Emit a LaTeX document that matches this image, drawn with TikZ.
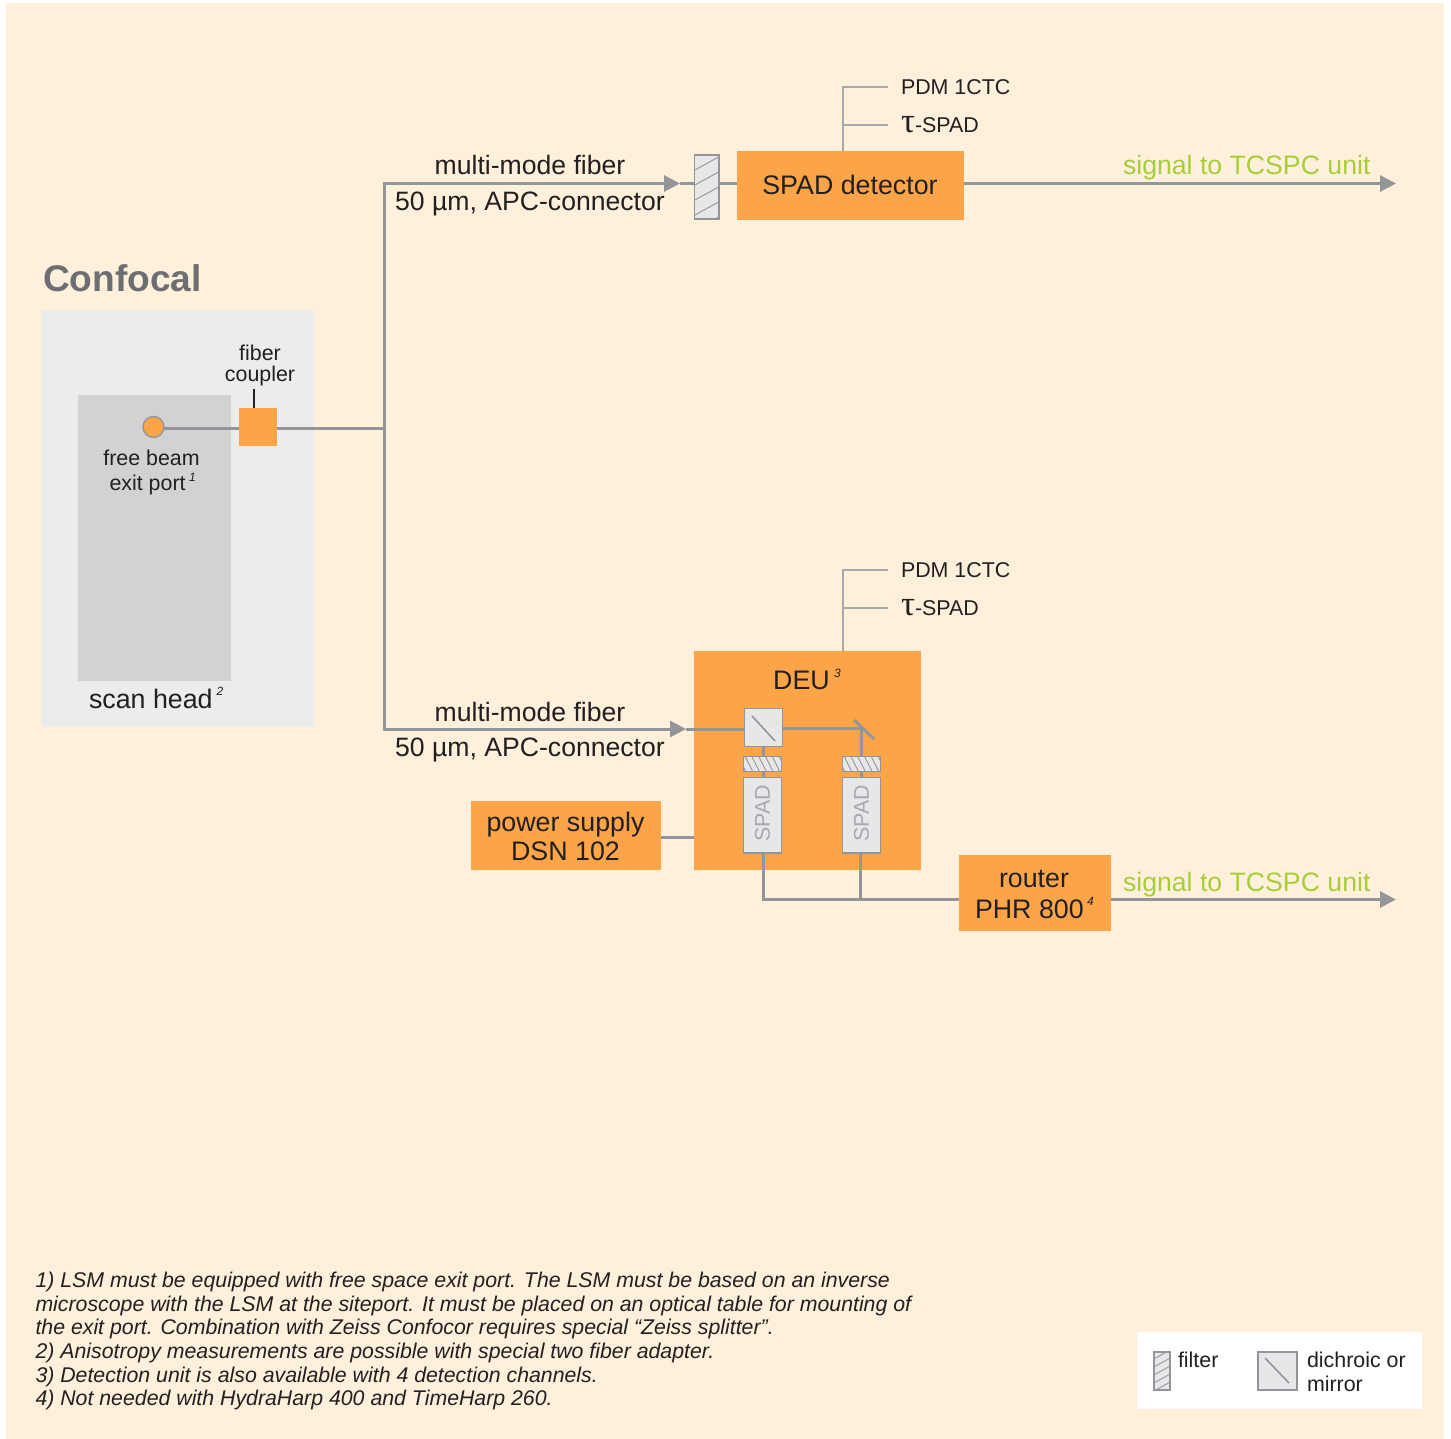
\documentclass[tikz,border=0pt]{standalone}
\usepackage{fontspec}
\setmainfont{Liberation Sans}
\newfontfamily\taufont{Liberation Serif}
\usetikzlibrary{arrows.meta}
\definecolor{bgc}{HTML}{FFF0DC}
\definecolor{panelc}{HTML}{EBECEC}
\definecolor{headc}{HTML}{D1D2D4}
\definecolor{orangec}{HTML}{FBA548}
\definecolor{linec}{HTML}{939598}
\definecolor{thinc}{HTML}{A7A9AC}
\definecolor{fillc}{HTML}{E6E7E8}
\definecolor{txtc}{HTML}{231F20}
\definecolor{greenc}{HTML}{A6CE39}
\definecolor{headtxt}{HTML}{6D6E71}
\newcommand{\rectnode}[6]{%
  \node[#6,minimum width={(#4-#2)*0.5pt},minimum height={(#5-#3)*0.5pt}] (#1) at ({(#2+#4)/2},{(#3+#5)/2}) {};}
\newcommand{\pxfont}[2]{\fontsize{#1}{#2}\selectfont}
\newcommand{\tauglyph}{{\taufont\fontsize{17.5pt}{17.5pt}\selectfont τ}}
\tikzset{
  x=0.5pt,y=-0.5pt,
  area/.style={inner sep=0pt,outer sep=0pt,fill=#1,draw=none},
  hbox/.style={inner sep=0pt,outer sep=0pt,fill=orangec,draw=none,text=txtc,align=center},
  compbox/.style={inner sep=0pt,outer sep=0pt,fill=fillc,draw=linec,line width=0.8pt},
  hatchup/.style={compbox,path picture={
     \foreach \k in {-6,...,6}
       \draw[linec,line width=0.45pt] ([xshift=-15pt,yshift=\k*#1-4pt]path picture bounding box.center) -- ++(30pt,16.5pt);}},
  hatchdown/.style={compbox,path picture={
     \foreach \k in {-8,...,8}
       \draw[linec,line width=0.45pt] ([xshift=\k*3.4pt-2pt,yshift=4pt]path picture bounding box.center) -- ++(4pt,-8pt);}},
  beam/.style={linec,line width=1.5pt},
  thin line/.style={thinc,line width=0.7pt},
  arrowbeam/.style={beam,-{Triangle[length=8pt,width=8pt]}},
  lab/.style={inner sep=0pt,outer sep=0pt,text=txtc,font=\pxfont{13.4pt}{15pt},anchor=base},
  fiberlab/.style={lab,font=\pxfont{13.3pt}{15pt}},
  small/.style={inner sep=0pt,outer sep=0pt,text=txtc,font=\pxfont{10.7pt}{12pt},anchor=base west},
  smallc/.style={small,anchor=base},
  sig/.style={inner sep=0pt,outer sep=0pt,text=greenc,font=\pxfont{13.33pt}{15pt},anchor=base west},
  supnum/.style={inner sep=0pt,outer sep=0pt,text=txtc,font=\pxfont{6pt}{7pt}\itshape,anchor=base west},
  spadtext/.style={text=thinc,font=\pxfont{10.7pt}{12pt},rotate=90,inner sep=0pt,xshift=1pt},
}
\begin{document}
\begin{tikzpicture}
\useasboundingbox (0,0) rectangle (1451,1439);
\rectnode{bg}{6}{3}{1444}{1439}{area=bgc}
\rectnode{panel}{41}{310}{314}{727}{area=panelc}
\rectnode{head}{78}{395}{231}{681}{area=headc}
\node[inner sep=0pt,outer sep=0pt,text=headtxt,font=\pxfont{18.55pt}{20pt}\bfseries,anchor=base west] (conf) at (43,291.5) {Confocal};

% named points
\coordinate (split) at (384.5,428);
\coordinate (upc) at (384.5,183.5);
\coordinate (lowc) at (384.5,729);
\coordinate (uptip) at (680,183.5);
\coordinate (lowtip) at (686,729);
\coordinate (sigtip1) at (1396,183.5);
\coordinate (sigtip2) at (1396,899.5);
\coordinate (pdmA) at (888,87);
\coordinate (pdmB) at (888,125);
\coordinate (pdmC) at (888,570);
\coordinate (pdmD) at (888,608);
\coordinate (tick) at (254,389);

% boxes
\rectnode{coupler}{239}{408}{277}{446}{hbox}
\node[circle,inner sep=0pt,outer sep=0pt,minimum size=10.5pt,fill=orangec,draw=linec,line width=0.7pt] (port) at (153.5,427) {};
\rectnode{detector}{737}{151}{964}{220}{hbox}
\rectnode{deu}{694}{651}{921}{870}{hbox}
\rectnode{psu}{471}{801}{661}{870}{hbox}
\rectnode{router}{959}{855}{1111}{931}{hbox}
\rectnode{legendbg}{1137}{1332}{1422}{1409}{area=white}

% connectors behind
\draw[beam] (port.east |- split) -- (coupler.west |- split);
\draw[beam] (coupler.east |- split) -- (split);
\draw[beam,line cap=rect] (upc) -- (lowc);
\draw[arrowbeam] (upc) -- (uptip);
\draw[arrowbeam] (lowc) -- (lowtip);
\draw[txtc,line width=0.6pt] (tick) -- (tick |- coupler.north);

\rectnode{upfilter}{694.5}{155}{719}{219}{hatchup=7.5pt}
\draw[beam] (uptip) -- (upfilter.west |- uptip);
\draw[beam] (upfilter.east |- uptip) -- (detector.west |- uptip);
\draw[arrowbeam] (detector.east |- sigtip1) -- (sigtip1);

\coordinate (upstem) at (843,87);
\coordinate (lowstem) at (843,570);
\draw[thin line] (pdmA) -- (upstem) -- (upstem |- detector.north);
\draw[thin line] (pdmB) -- (upstem |- pdmB);
\draw[thin line] (pdmC) -- (lowstem) -- (lowstem |- deu.north);
\draw[thin line] (pdmD) -- (lowstem |- pdmD);

% DEU interior
\rectnode{dich}{744.5}{708.5}{782.5}{746.5}{compbox}
\rectnode{filtA}{743.5}{756.5}{781.5}{771.5}{hatchdown}
\rectnode{filtB}{842.5}{756.5}{880.5}{771.5}{hatchdown}
\rectnode{spadA}{743.5}{777.5}{781.5}{853}{compbox}
\rectnode{spadB}{842.5}{777.5}{880.5}{853}{compbox}
\coordinate (mirrorA) at (854,720);
\coordinate (mirrorB) at (874,739);
\coordinate (mirrorhit) at (861.5,728.5);
\coordinate (dichA) at (752,716);
\coordinate (dichB) at (775,741);
\coordinate (stemA) at (763.7,899.5);
\coordinate (stemB) at (860.7,899.5);
\draw[beam] (lowtip) -- (dich.west |- lowtip);
\draw[beam] (dich.east |- mirrorhit) -- (mirrorhit);
\draw[beam] (mirrorA) -- (mirrorB);
\draw[beam] (mirrorhit) -- (mirrorhit |- filtB.north);
\draw[beam] (filtB.south -| mirrorhit) -- (spadB.north -| mirrorhit);
\draw[beam] (dich.south -| stemA) -- (filtA.north -| stemA);
\draw[beam] (filtA.south -| stemA) -- (spadA.north -| stemA);
\draw[linec,line width=0.8pt] (dichA) -- (dichB);
\node[spadtext] (spadAtxt) at (spadA.center) {SPAD};
\node[spadtext] (spadBtxt) at (spadB.center) {SPAD};

\draw[beam,line join=miter] (spadA.south -| stemA) -- (stemA) -- (router.west |- stemA);
\draw[beam] (spadB.south -| stemB) -- (stemB);
\draw[arrowbeam] (router.east |- sigtip2) -- (sigtip2);
\draw[beam] (psu.east |- 0,837.5) -- (deu.west |- 0,837.5);

% labels
\node[smallc] (fc1) at (260,360) {fiber};
\node[smallc] (fc2) at (260,381) {coupler};
\node[smallc] (fb1) at (151.5,465.5) {free beam};
\node[small] (fb2) at (109.5,490) {exit port};
\node[supnum] (s1) at (189,481) {1};
\node[lab,anchor=base west] (shl) at (89,708) {scan head};
\node[supnum] (s2) at (216.5,695) {2};
\node[fiberlab] (mm1) at (530,175) {multi-mode fiber};
\node[fiberlab] (mm1b) at (530,211) {50 µm, APC-connector};
\node[fiberlab] (mm2) at (530,721) {multi-mode fiber};
\node[fiberlab] (mm2b) at (530,756) {50 µm, APC-connector};
\node[lab] (dett) at (850,195) {SPAD detector};
\node[small] (p1) at (901,94.5) {PDM 1CTC};
\node[small] (t1) at (901,132.5) {\tauglyph-SPAD};
\node[small] (p2) at (901,577.5) {PDM 1CTC};
\node[small] (t2) at (901,615.5) {\tauglyph-SPAD};
\node[lab] (deut) at (801.5,689.5) {DEU};
\node[supnum] (s3) at (834,677) {3};
\node[lab] (ps1) at (565.5,831) {power supply};
\node[lab] (ps2) at (565.5,860) {DSN 102};
\node[lab] (r1) at (1034,887) {router};
\node[lab,anchor=base west] (r2) at (975,918) {PHR 800};
\node[supnum] (s4) at (1087,905) {4};
\node[sig] (sg1) at (1123,175) {signal to TCSPC unit};
\node[sig] (sg2) at (1123,891) {signal to TCSPC unit};

\node[inner sep=0pt,outer sep=0pt,text=txtc,anchor=north west,align=left,font=\pxfont{10.65pt}{11.85pt}\itshape] (notes) at (35.5,1272) {1) LSM must be equipped with free space exit port. The LSM must be based on an inverse\\
microscope with the LSM at the siteport. It must be placed on an optical table for mounting of\\
the exit port. Combination with Zeiss Confocor requires special “Zeiss splitter”.\\
2) Anisotropy measurements are possible with special two fiber adapter.\\
3) Detection unit is also available with 4 detection channels.\\
4) Not needed with HydraHarp 400 and TimeHarp 260.};

% legend
\rectnode{legfilt}{1154}{1352}{1170}{1390}{hatchup=4pt}
\rectnode{legdich}{1258}{1352}{1297}{1390}{compbox}
\coordinate (ldA) at (1265,1358);
\coordinate (ldB) at (1289,1383);
\draw[linec,line width=0.8pt] (ldA) -- (ldB);
\node[small] (lf) at (1178,1367) {filter};
\node[small] (ld1) at (1307,1367) {dichroic or};
\node[small] (ld2) at (1307,1391) {mirror};
\end{tikzpicture}
\end{document}
